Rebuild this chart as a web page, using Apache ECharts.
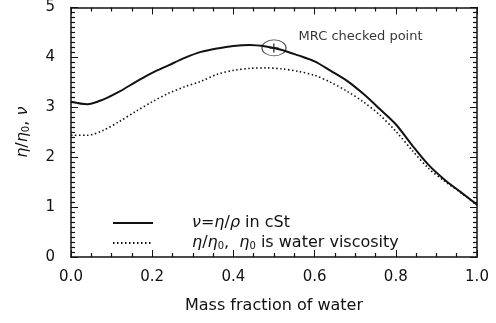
<!DOCTYPE html>
<html>
<head>
<meta charset="utf-8">
<script src="https://cdn.jsdelivr.net/npm/echarts@6/dist/echarts.min.js"></script>
<style>
  html, body { margin: 0; padding: 0; background: #fff; }
  #main { width: 496px; height: 323px; }
</style>
</head>
<body>
<div id="main"></div>
<script>
// mass fraction of water
var massFrac = [0, 0.04, 0.08, 0.12, 0.16, 0.20, 0.24, 0.28, 0.32, 0.36, 0.40, 0.44, 0.48,
  0.52, 0.56, 0.60, 0.64, 0.68, 0.72, 0.76, 0.80, 0.84, 0.88, 0.92, 0.96, 1.00];
// kinematic viscosity nu = eta/rho, cSt
var nuVals = [3.11, 3.06, 3.16, 3.32, 3.51, 3.69, 3.84, 3.99, 4.11, 4.18, 4.23, 4.25, 4.22,
  4.15, 4.04, 3.92, 3.73, 3.53, 3.27, 2.97, 2.66, 2.24, 1.85, 1.55, 1.30, 1.05];
// relative viscosity eta/eta0
var etaVals = [2.44, 2.44, 2.54, 2.72, 2.92, 3.11, 3.28, 3.41, 3.52, 3.66, 3.74, 3.78, 3.79,
  3.77, 3.72, 3.64, 3.50, 3.32, 3.11, 2.85, 2.52, 2.14, 1.78, 1.52, 1.29, 1.04];
// MRC checked point
var checkedPoint = [0.5, 4.19];

var xTicks = [0, 1, 0.2];   // min, max, interval
var yTicks = [0, 5, 1];

var FONT = "DejaVu Sans";
var INK = "#111";

function pairs(xs, ys) {
  var out = [];
  for (var i = 0; i < xs.length; i++) out.push([xs[i], ys[i]]);
  return out;
}

var myChart = echarts.init(document.getElementById('main'));

var greek = { fontFamily: FONT, fontStyle: 'italic', fontSize: 16, color: INK };
var sub = { fontFamily: FONT, fontSize: 10, color: INK, verticalAlign: 'bottom', padding: [7, 0, 0, 0] };

function xAxisOpt(pos, showLabel) {
  return {
    type: 'value', position: pos,
    min: xTicks[0], max: xTicks[1], interval: xTicks[2],
    axisLine: { show: true, onZero: false, lineStyle: { color: INK, width: 1.5 } },
    axisTick: { show: true, inside: true, length: 7, lineStyle: { color: INK, width: 1 } },
    minorTick: { show: true, splitNumber: 4, length: 4, lineStyle: { color: INK, width: 1.2 } },
    splitLine: { show: false },
    axisLabel: {
      show: showLabel, margin: 13, fontFamily: FONT, fontSize: 15, color: INK,
      formatter: function (v) { return v.toFixed(1); }
    },
    name: showLabel ? 'Mass fraction of water' : '',
    nameLocation: 'middle', nameGap: 41,
    nameTextStyle: { fontFamily: FONT, fontSize: 16, color: INK }
  };
}

function yAxisOpt(pos, showLabel) {
  return {
    type: 'value', position: pos,
    min: yTicks[0], max: yTicks[1], interval: yTicks[2],
    axisLine: { show: true, onZero: false, lineStyle: { color: INK, width: 1.5 } },
    axisTick: { show: true, inside: true, length: 7, lineStyle: { color: INK, width: 1 } },
    minorTick: { show: true, splitNumber: 10, length: 4, lineStyle: { color: INK, width: 1.2 } },
    splitLine: { show: false },
    axisLabel: { show: showLabel, margin: 16, fontFamily: FONT, fontSize: 15, color: INK },
    name: showLabel ? '{g|η}/{g|η}{s|0}, {g|ν}' : '',
    nameLocation: 'middle', nameGap: 40, nameRotate: 90,
    nameTextStyle: { fontFamily: FONT, fontSize: 16, color: INK, rich: { g: greek, s: sub } }
  };
}

myChart.setOption({
  animation: false,
  backgroundColor: '#fff',
  grid: { left: 71, right: 19, top: 7, bottom: 66 },
  xAxis: [xAxisOpt('bottom', true), xAxisOpt('top', false)],
  yAxis: [yAxisOpt('left', true), yAxisOpt('right', false)],
  legend: {
    orient: 'vertical', left: 112, top: 215, padding: 0,
    itemWidth: 40, itemHeight: 18, itemGap: 4,
    data: ['nu', 'eta'],
    itemStyle: { opacity: 0 },
    formatter: function (name) {
      if (name === 'nu') return '{g|ν}={g|η}/{g|ρ} in cSt';
      return '{g|η}/{g|η}{s|0},  {g|η}{s|0} is water viscosity';
    },
    textStyle: {
      fontFamily: FONT, fontSize: 16, color: INK, padding: [0, 0, 0, 34],
      rich: { g: greek, s: sub }
    }
  },
  series: [
    {
      name: 'nu', type: 'line', smooth: 0.3, symbol: 'none',
      data: pairs(massFrac, nuVals),
      itemStyle: { color: INK },
      lineStyle: { color: INK, width: 2 }
    },
    {
      name: 'eta', type: 'line', smooth: 0.3, symbol: 'none',
      data: pairs(massFrac, etaVals),
      itemStyle: { color: INK },
      lineStyle: { color: INK, width: 1.6, type: [1.5, 2.5] }
    },
    {
      name: 'mrc', type: 'scatter', silent: true,
      symbol: 'path://M4,0h1.6v4.2h4.4v1.6h-4.4v4.2h-1.6v-4.2h-4v-1.6h4z',
      symbolSize: 9,
      itemStyle: { color: INK },
      data: [checkedPoint]
    },
    {
      name: 'mrcRing', type: 'scatter', silent: true,
      symbol: 'circle', symbolSize: [24, 16],
      itemStyle: { color: 'rgba(0,0,0,0)', borderColor: INK, borderWidth: 1 },
      label: {
        show: true, position: 'right', distance: 5, offset: [7, -11],
        formatter: 'MRC checked point',
        fontFamily: FONT, fontSize: 13, color: '#000'
      },
      data: [checkedPoint]
    }
  ]
});

window.onresize = myChart.resize;
</script>
</body>
</html>
